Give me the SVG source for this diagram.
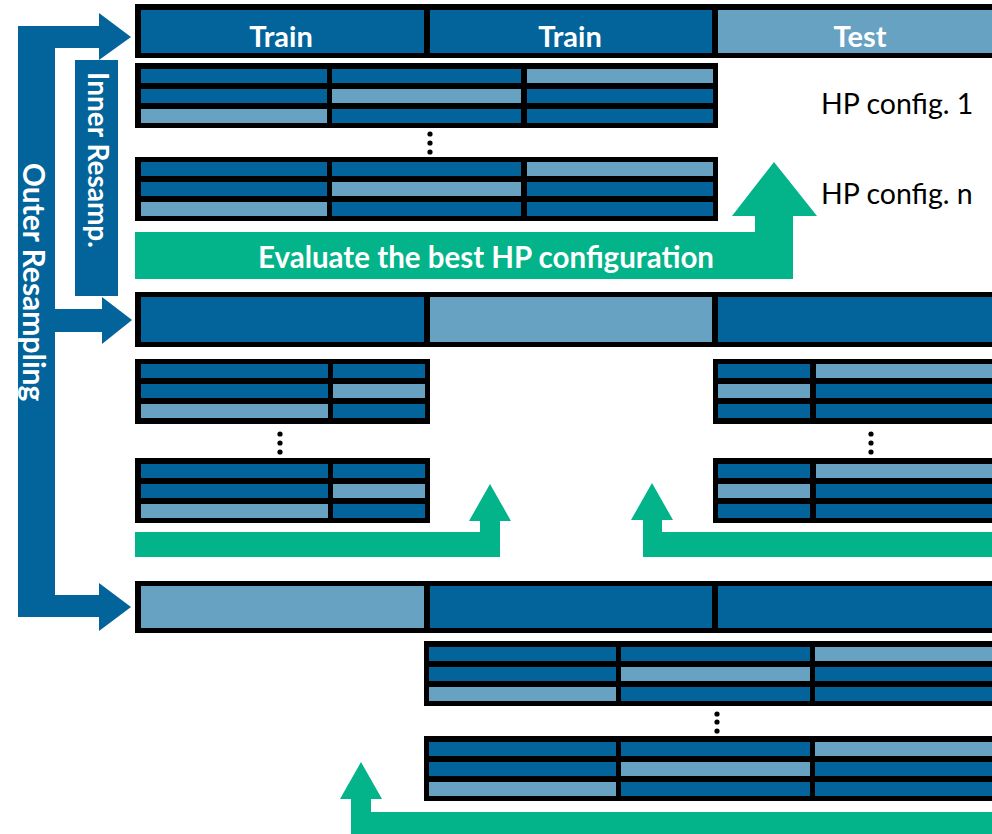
<svg xmlns="http://www.w3.org/2000/svg" width="992" height="834" viewBox="0 0 992 834">
<style>
.d{fill:#03639B}
.l{fill:#67A2C3}
.k{fill:#000}
.g{fill:#03B389}
.wt{fill:#fff;font-family:Lato,"Open Sans",sans-serif;font-weight:bold}
.bt{fill:#000;font-family:Lato,"Open Sans",sans-serif}
.dot{fill:#000}
</style>
<rect width="992" height="834" fill="#fff"/>
<g id="connectors">
<path id="outer-arrow" class="d" d="M18,26 H99 V13 L131,37 L99,60 V48 H55 V309 H102 V297 L132,320 L102,344 V332 H55 V595 H99 V583 L131,607 L99,631 V617 H18 Z"/>
<path id="green1" class="g" d="M135,232 H755 V216 H732 L774,162 L817,216 H793 V279 H135 Z"/>
<path id="green2" class="g" d="M135,532 H480 V521 H469 L490,484 L511,521 H500 V557 H135 Z"/>
<path id="green3" class="g" d="M1000,532 H662 V520 H673 L652,483 L631,520 H643 V557 H1000 Z"/>
<path id="green4" class="g" d="M1000,812 H371 V799 H382 L361,762 L340,799 H351 V840 H1000 Z"/>
</g>
<g id="inner-resamp">
<rect class="d" x="75" y="60" width="43" height="236"/>
<text class="wt" font-size="28" text-anchor="middle" transform="translate(88,160) rotate(90)">Inner Resamp.</text>
</g>
<g id="outer-label">
<text class="wt" font-size="30" text-anchor="middle" transform="translate(23,282) rotate(90)">Outer Resampling</text>
</g>
<g id="bar1">
<rect class="k" x="135" y="4" width="870" height="54"/>
<rect class="d" x="141" y="10" width="283" height="43"/>
<rect class="d" x="430" y="10" width="282" height="43"/>
<rect class="l" x="718" y="10" width="290" height="43"/>
<text class="wt" font-size="29" x="281" y="47" text-anchor="middle">Train</text>
<text class="wt" font-size="29" x="570" y="47" text-anchor="middle">Train</text>
<text class="wt" font-size="29" x="860" y="47" text-anchor="middle">Test</text>
</g>
<g id="grid1a">
<rect class="k" x="135" y="63" width="583" height="65"/>
<rect class="d" x="141" y="69" width="186" height="14"/><rect class="d" x="332" y="69" width="189" height="14"/><rect class="l" x="527" y="69" width="186" height="14"/>
<rect class="d" x="141" y="89" width="186" height="14"/><rect class="l" x="332" y="89" width="189" height="14"/><rect class="d" x="527" y="89" width="186" height="14"/>
<rect class="l" x="141" y="109" width="186" height="14"/><rect class="d" x="332" y="109" width="189" height="14"/><rect class="d" x="527" y="109" width="186" height="14"/>
</g>
<g id="dots1"><circle class="dot" cx="430" cy="134" r="2.6"/><circle class="dot" cx="430" cy="143" r="2.6"/><circle class="dot" cx="430" cy="152" r="2.6"/></g>
<g id="grid1b">
<rect class="k" x="135" y="157" width="583" height="64"/>
<rect class="d" x="141" y="162" width="186" height="14"/><rect class="d" x="332" y="162" width="189" height="14"/><rect class="l" x="527" y="162" width="186" height="14"/>
<rect class="d" x="141" y="182" width="186" height="14"/><rect class="l" x="332" y="182" width="189" height="14"/><rect class="d" x="527" y="182" width="186" height="14"/>
<rect class="l" x="141" y="202" width="186" height="14"/><rect class="d" x="332" y="202" width="189" height="14"/><rect class="d" x="527" y="202" width="186" height="14"/>
</g>
<g id="hp-labels">
<text class="bt" font-size="28.5" x="821" y="114">HP config. 1</text>
<text class="bt" font-size="28.5" x="821" y="204">HP config. n</text>
</g>
<g id="eval-label">
<text class="wt" font-size="29.5" x="486" y="268" text-anchor="middle">Evaluate the best HP configuration</text>
</g>
<g id="bar2">
<rect class="k" x="135" y="292" width="870" height="55"/>
<rect class="d" x="141" y="297" width="283" height="45"/>
<rect class="l" x="430" y="297" width="282" height="45"/>
<rect class="d" x="718" y="297" width="290" height="45"/>
</g>
<g id="grid2La">
<rect class="k" x="135" y="359" width="295" height="65"/>
<rect class="d" x="141" y="364" width="187" height="14"/><rect class="d" x="333" y="364" width="92" height="14"/>
<rect class="d" x="141" y="384" width="187" height="14"/><rect class="l" x="333" y="384" width="92" height="14"/>
<rect class="l" x="141" y="404" width="187" height="14"/><rect class="d" x="333" y="404" width="92" height="14"/>
</g>
<g id="dots2L"><circle class="dot" cx="280" cy="434" r="2.6"/><circle class="dot" cx="280" cy="443" r="2.6"/><circle class="dot" cx="280" cy="452" r="2.6"/></g>
<g id="grid2Lb">
<rect class="k" x="135" y="458" width="295" height="65"/>
<rect class="d" x="141" y="464" width="187" height="14"/><rect class="d" x="333" y="464" width="92" height="14"/>
<rect class="d" x="141" y="484" width="187" height="14"/><rect class="l" x="333" y="484" width="92" height="14"/>
<rect class="l" x="141" y="504" width="187" height="14"/><rect class="d" x="333" y="504" width="92" height="14"/>
</g>
<g id="grid2Ra">
<rect class="k" x="713" y="359" width="290" height="65"/>
<rect class="d" x="718" y="364" width="92" height="14"/><rect class="l" x="816" y="364" width="190" height="14"/>
<rect class="l" x="718" y="384" width="92" height="14"/><rect class="d" x="816" y="384" width="190" height="14"/>
<rect class="d" x="718" y="404" width="92" height="14"/><rect class="d" x="816" y="404" width="190" height="14"/>
</g>
<g id="dots2R"><circle class="dot" cx="871" cy="434" r="2.6"/><circle class="dot" cx="871" cy="443" r="2.6"/><circle class="dot" cx="871" cy="452" r="2.6"/></g>
<g id="grid2Rb">
<rect class="k" x="713" y="458" width="290" height="65"/>
<rect class="d" x="718" y="464" width="92" height="14"/><rect class="l" x="816" y="464" width="190" height="14"/>
<rect class="l" x="718" y="484" width="92" height="14"/><rect class="d" x="816" y="484" width="190" height="14"/>
<rect class="d" x="718" y="504" width="92" height="14"/><rect class="d" x="816" y="504" width="190" height="14"/>
</g>
<g id="bar3">
<rect class="k" x="135" y="581" width="870" height="52"/>
<rect class="l" x="141" y="586" width="283" height="42"/>
<rect class="d" x="430" y="586" width="282" height="42"/>
<rect class="d" x="718" y="586" width="290" height="42"/>
</g>
<g id="grid3a">
<rect class="k" x="424" y="641" width="580" height="65"/>
<rect class="d" x="429" y="647" width="187" height="14"/><rect class="d" x="621" y="647" width="189" height="14"/><rect class="l" x="815" y="647" width="190" height="14"/>
<rect class="d" x="429" y="667" width="187" height="14"/><rect class="l" x="621" y="667" width="189" height="14"/><rect class="d" x="815" y="667" width="190" height="14"/>
<rect class="l" x="429" y="687" width="187" height="14"/><rect class="d" x="621" y="687" width="189" height="14"/><rect class="d" x="815" y="687" width="190" height="14"/>
</g>
<g id="dots3"><circle class="dot" cx="717" cy="714" r="2.6"/><circle class="dot" cx="717" cy="722" r="2.6"/><circle class="dot" cx="717" cy="731" r="2.6"/></g>
<g id="grid3b">
<rect class="k" x="424" y="736" width="580" height="65"/>
<rect class="d" x="429" y="742" width="187" height="14"/><rect class="d" x="621" y="742" width="189" height="14"/><rect class="l" x="815" y="742" width="190" height="14"/>
<rect class="d" x="429" y="762" width="187" height="14"/><rect class="l" x="621" y="762" width="189" height="14"/><rect class="d" x="815" y="762" width="190" height="14"/>
<rect class="l" x="429" y="782" width="187" height="14"/><rect class="d" x="621" y="782" width="189" height="14"/><rect class="d" x="815" y="782" width="190" height="14"/>
</g>
</svg>
